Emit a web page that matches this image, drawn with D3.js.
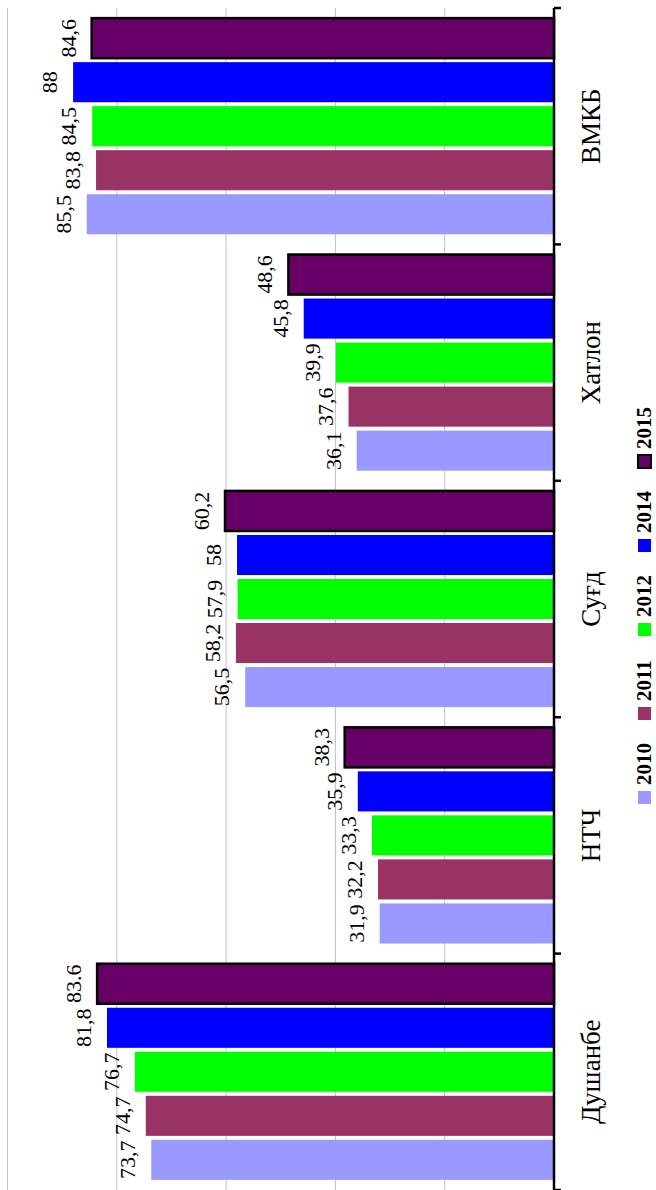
<!DOCTYPE html>
<html>
<head>
<meta charset="utf-8">
<script src="https://cdn.jsdelivr.net/npm/d3@7"></script>
<style>
  body { margin: 0; background: #fff; }
  svg text { font-family: "Liberation Serif", "Times New Roman", serif; fill: #000; }
  .grid line { stroke: #c0c0c0; stroke-width: 1; }
  .label { font-size: 22px; }
  .cat { font-size: 27px; }
  .legend text { font-size: 21px; font-weight: bold; }
</style>
</head>
<body>
<script>
// data
var categories = ["Душанбе", "НТЧ", "Суғд", "Хатлон", "ВМКБ"];
var years = ["2010", "2011", "2012", "2014", "2015"];
var values2010 = [73.7, 31.9, 56.5, 36.1, 85.5];
var values2011 = [74.7, 32.2, 58.2, 37.6, 83.8];
var values2012 = [76.7, 33.3, 57.9, 39.9, 84.5];
var values2014 = [81.8, 35.9, 58, 45.8, 88];
var values2015 = [83.6, 38.3, 60.2, 48.6, 84.6];
var gridTicks = [20, 40, 60, 80, 100];
var colors = ["#9999ff", "#993366", "#00ff00", "#0000ff", "#660066"];

var series = [values2010, values2011, values2012, values2014, values2015];

var pageW = 656, pageH = 1190;

// chart is built as an ordinary column chart, then turned 90 degrees
var svg = d3.select("body").append("svg")
    .attr("width", pageW)
    .attr("height", pageH);

var g = svg.append("g")
    .attr("transform", "translate(0," + pageH + ") rotate(-90)");

var plot = {left: 0, right: 1182, top: 7.5, bottom: 554};

var x0 = d3.scaleBand()
    .domain(categories)
    .range([plot.left, plot.right]);

var x1 = d3.scaleBand()
    .domain(years)
    .range([0, x0.bandwidth()])
    .paddingInner(0.09)
    .paddingOuter(0.23);

var y = d3.scaleLinear()
    .domain([0, 100])
    .range([plot.bottom, plot.top]);

// gridlines
g.append("g")
    .attr("class", "grid")
    .selectAll("line")
    .data(gridTicks)
    .enter()
    .append("line")
    .attr("x1", plot.left)
    .attr("x2", plot.right)
    .attr("y1", function(d) { return y(d); })
    .attr("y2", function(d) { return y(d); });

// flatten to one record per bar
var rows = [];
categories.forEach(function(c, i) {
    years.forEach(function(yr, j) {
        rows.push({cat: c, year: yr, value: series[j][i], k: j});
    });
});

function labelText(d) {
    // one label in the source uses a point, the rest a comma
    var s = String(d.value);
    if (d.cat == "Душанбе" && d.year == "2015") return s;
    return s.replace(".", ",");
}

g.append("g")
    .selectAll("rect")
    .data(rows)
    .enter()
    .append("rect")
    .attr("x", function(d) { return x0(d.cat) + x1(d.year); })
    .attr("width", x1.bandwidth())
    .attr("y", function(d) { return y(d.value); })
    .attr("height", function(d) { return y(0) - y(d.value); })
    .attr("fill", function(d) { return colors[d.k]; })
    .attr("stroke", function(d) { return d.year == "2015" ? "#000" : "none"; })
    .attr("stroke-width", 2.5);

// value labels
g.append("g")
    .selectAll("text")
    .data(rows)
    .enter()
    .append("text")
    .attr("class", "label")
    .attr("x", function(d) { return x0(d.cat) + x1(d.year) + x1.bandwidth() / 2; })
    .attr("y", function(d) { return y(d.value) - 16; })
    .attr("text-anchor", "middle")
    .text(labelText);

// category axis
g.append("line")
    .attr("x1", plot.left).attr("x2", plot.right)
    .attr("y1", y(0)).attr("y2", y(0))
    .attr("stroke", "#000").attr("stroke-width", 2.5);

var bounds = categories.map(function(c) { return x0(c); }).concat([plot.right]);
g.append("g")
    .selectAll("line")
    .data(bounds)
    .enter()
    .append("line")
    .attr("x1", function(d) { return d; })
    .attr("x2", function(d) { return d; })
    .attr("y1", y(0))
    .attr("y2", y(0) + 7)
    .attr("stroke", "#000")
    .attr("stroke-width", 2.5);

g.append("g")
    .selectAll("text")
    .data(categories)
    .enter()
    .append("text")
    .attr("class", "cat")
    .attr("x", function(d) { return x0(d) + x0.bandwidth() / 2; })
    .attr("y", 600)
    .attr("text-anchor", "middle")
    .text(function(d) { return d; });

// legend
var legStep = 84, legStart = 386;
var leg = g.append("g")
    .attr("class", "legend")
    .selectAll("g")
    .data(years)
    .enter()
    .append("g")
    .attr("transform", function(d, i) { return "translate(" + (legStart + i * legStep) + ",0)"; });

leg.append("rect")
    .attr("x", 0)
    .attr("y", 638)
    .attr("width", 13)
    .attr("height", 13)
    .attr("fill", function(d, i) { return colors[i]; })
    .attr("stroke", function(d) { return d == "2015" ? "#000" : "none"; })
    .attr("stroke-width", 2);

leg.append("text")
    .attr("x", 19)
    .attr("y", 651)
    .text(function(d) { return d; });
</script>
</body>
</html>
